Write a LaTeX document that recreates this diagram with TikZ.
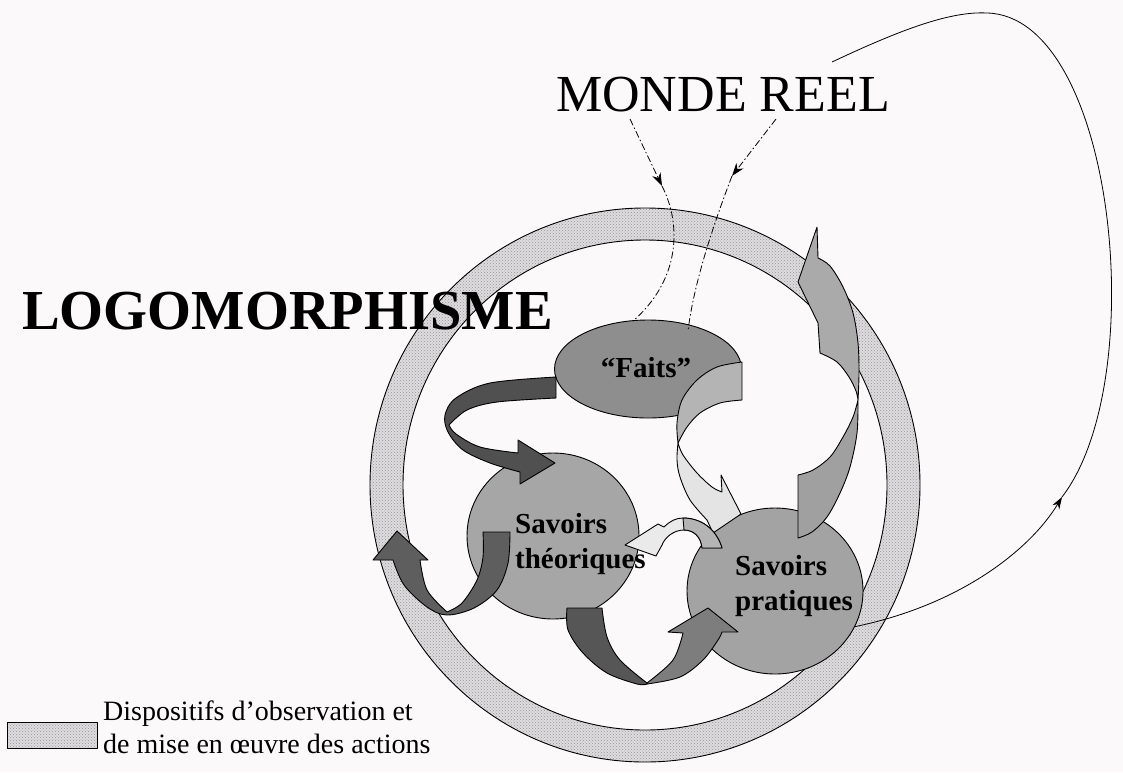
\documentclass[tikz,border=0pt]{standalone}
\usepackage{fontspec}
\setmainfont{Liberation Serif}
\usetikzlibrary{shapes.geometric,patterns,arrows.meta}
\definecolor{bgcol}{RGB}{252,249,251}
\definecolor{ringfill}{RGB}{222,220,222}
\definecolor{ringdot}{RGB}{150,150,150}
\definecolor{faitsfill}{RGB}{142,142,142}
\definecolor{theofill}{RGB}{166,166,166}
\definecolor{pratfill}{RGB}{163,163,163}
\definecolor{darkA}{RGB}{80,80,80}
\definecolor{darkB}{RGB}{94,94,94}
\definecolor{darkC}{RGB}{86,86,86}
\definecolor{midC}{RGB}{125,125,125}
\definecolor{lightD}{RGB}{180,180,180}
\definecolor{paleD}{RGB}{228,228,228}
\definecolor{paleE}{RGB}{234,234,234}
\definecolor{midF}{RGB}{160,160,160}
\definecolor{lightF}{RGB}{170,170,170}
\begin{document}
\begin{tikzpicture}[x=1pt,y=-1pt,
  outl/.style={draw=black, line width=0.9pt, line join=round},
  ringsty/.style={outl, even odd rule, preaction={fill=ringfill, even odd rule}, pattern=crosshatch dots, pattern color=ringdot},
  boldtxt/.style={font=\bfseries\fontsize{29}{35}\selectfont, inner sep=0pt},
  dline/.style={line width=0.8pt, dash pattern=on 7pt off 2.5pt on 1.5pt off 2.5pt},
  tipsty/.style={-{Stealth[length=13pt,width=9pt]}},
  thinline/.style={line width=0.8pt}
]
\useasboundingbox (0,0) rectangle (1123,772);
\fill[bgcol] (0,0) rectangle (1123,772);

% ring
\path[ringsty] (645,485) ellipse[x radius=275, y radius=277] (645,485) ellipse[x radius=242, y radius=245];

% legend box
\node[ringsty, minimum width=90pt, minimum height=26pt, inner sep=0, anchor=north west] (legbox) at (7,722) {};

% main shapes
\node[ellipse, outl, fill=theofill, minimum width=172pt, minimum height=166pt, inner sep=0] (theo) at (553,536) {};
\node[ellipse, outl, fill=pratfill, minimum width=176pt, minimum height=166pt, inner sep=0] (prat) at (775,591) {};
\node[ellipse, outl, fill=faitsfill, minimum width=187pt, minimum height=98pt, inner sep=0] (faits) at (648,369) {};

% arrow A (Faits -> Savoirs theoriques)
\filldraw[outl, fill=darkA] plot[smooth, tension=0.55] coordinates {(556,377) (490,383) (456,398) (445,415) (448,432) (463,450) (490,463) (520,472)} -- (520,484) -- (555,463) -- (518,440) -- plot[smooth, tension=0.55] coordinates {(518,453) (480,447) (456,434) (449,425)} -- plot[smooth, tension=0.55] coordinates {(449,425) (467,410) (497,402) (556,398)} -- cycle;

% arrow B (left U)
\filldraw[outl, fill=darkB] (483,532) -- plot[smooth, tension=0.55] coordinates {(510,532) (508,563) (497,590) (474,608) (447,615) (427,607) (404,585) (393,560)} -- (373,560) -- (397,531) -- (428,560) -- plot[smooth, tension=0.55] coordinates {(420,560) (427,590) (447,612)} -- plot[smooth, tension=0.55] coordinates {(447,612) (462,603) (477,580) (483,557) (483,532)} -- cycle;

% arrow C (bottom)
\filldraw[outl, fill=darkC] (567,608) -- plot[smooth, tension=0.55] coordinates {(602,608) (607,637) (620,660) (647,683)} -- plot[smooth, tension=0.55] coordinates {(647,684) (637,684) (607,673) (583,653) (568,630) (567,608)} -- cycle;
\filldraw[outl, fill=midC] plot[smooth, tension=0.55] coordinates {(647,684) (680,677) (703,660) (718,640) (722,632)} -- (738,632) -- (708,608) -- (668,632) -- plot[smooth, tension=0.55] coordinates {(683,633) (673,660) (647,683)} -- cycle;

% arrow D (Faits -> Savoirs pratiques)
\filldraw[outl, fill=lightD] plot[smooth, tension=0.55] coordinates {(742,362) (717,367) (697,380) (682,400) (677,423) (678,443)} -- plot[smooth, tension=0.55] coordinates {(678,443) (687,427) (700,413) (720,403) (742,400)} -- cycle;
\filldraw[outl, fill=paleD] plot[smooth, tension=0.55] coordinates {(678,443) (683,455) (697,473) (712,487) (722,492)} -- (721,475) -- (741,514) -- (713,533) -- plot[smooth, tension=0.55] coordinates {(707,520) (690,500) (680,477) (677,460) (678,443)} -- cycle;

% arrow E (small, pratiques -> theoriques)
\filldraw[outl, fill=paleE] (722,548) -- (702,548) .. controls (701,537) and (694,530) .. (684,530) .. controls (674,530) and (665,537) .. (662,545) -- (656,556) -- (625,545) -- (658,524) -- (664,527) .. controls (670,521) and (676,518) .. (683,518) .. controls (700,518) and (716,528) .. (722,548) -- cycle;
\filldraw[outl, fill=lightD] (722,548) -- (702,548) .. controls (701,537) and (694,530) .. (684,530) -- (683,518) .. controls (700,518) and (716,528) .. (722,548) -- cycle;

% arrow F (up right)
\filldraw[outl, fill=midF] (798,475) -- plot[smooth, tension=0.55] coordinates {(798,538) (812,532) (827,517) (840,493) (850,467) (857,433) (858,400)} -- plot[smooth, tension=0.55] coordinates {(858,400) (853,417) (843,437) (830,457) (813,470) (798,475)} -- cycle;
\filldraw[outl, fill=lightF] plot[smooth, tension=0.55] coordinates {(858,400) (859,373) (858,343) (853,313) (843,287) (830,266) (818,258)} -- (817,227) -- (798,282) -- (818,323) -- (820,353) -- plot[smooth, tension=0.55] coordinates {(820,353) (837,362) (849,377) (856,391) (858,400)} -- cycle;

% texts
\node[anchor=base east, inner sep=0, font=\bfseries\fontsize{56.5}{62}\selectfont] (logo) at (553,329) {LOGOMORPHISME};
\node[anchor=base west, inner sep=0, font=\fontsize{52}{60}\selectfont] (monde) at (556,111) {MONDE REEL};
\node[anchor=base, boldtxt] (ftxt) at (646,377) {“Faits”};
\node[anchor=base west, boldtxt] (t1) at (515,533) {Savoirs};
\node[anchor=base west, boldtxt] (t2) at (515,568) {théoriques};
\node[anchor=base west, boldtxt] (p1) at (735,575) {Savoirs};
\node[anchor=base west, boldtxt] (p2) at (735,610) {pratiques};
\node[anchor=base west, inner sep=0, font=\fontsize{28}{33}\selectfont] (leg1) at (103,720) {Dispositifs d’observation et};
\node[anchor=base west, inner sep=0, font=\fontsize{28}{33}\selectfont] (leg2) at (103,753) {de mise en œuvre des actions};

% dashed connectors from MONDE REEL to Faits
\coordinate (d1s) at (630,119);
\coordinate (d1m) at (662,186);
\coordinate (d1e) at (633,321);
\coordinate (d2s) at (776,119);
\coordinate (d2m) at (732,176);
\coordinate (d2e) at (688,331);
\draw[dline, tipsty] (d1s) -- (d1m);
\draw[dline] (d1m) .. controls (682,225) and (680,280) .. (d1e);
\draw[dline, tipsty] (d2s) -- (d2m);
\draw[dline] (d2m) .. controls (717,215) and (694,280) .. (d2e);

% loop connector from Savoirs pratiques
\coordinate (gm) at (1062,497);
\coordinate (gt) at (987,13);
\coordinate (ge) at (832,62);
\draw[thinline, -{Stealth[length=12pt,width=8pt]}] (prat.-24) .. controls (960,605) and (1030,550) .. (gm);
\draw[thinline] (gm) .. controls (1152,380) and (1115,16) .. (gt) .. controls (950,11) and (900,30) .. (ge);
\end{tikzpicture}
\end{document}
